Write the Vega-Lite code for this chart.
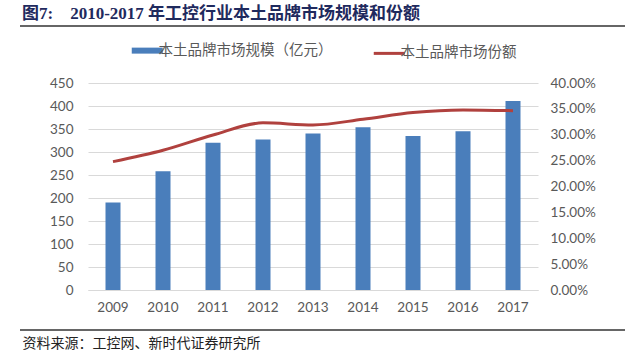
{
  "$schema": "https://vega.github.io/schema/vega-lite/v6.json",
  "width": 450,
  "height": 207,
  "autosize": {"type": "none"},
  "padding": {"left": 88, "top": 83, "right": 102, "bottom": 64},
  "background": "white",
  "title": {
    "text": "图7:\u00a0\u00a0\u00a0\u00a02010-2017 年工控行业本土品牌市场规模和份额",
    "anchor": "start",
    "frame": "group",
    "dx": -66,
    "offset": -11,
    "baseline": "alphabetic",
    "font": "Liberation Serif, Noto Sans CJK SC",
    "fontSize": 17,
    "fontWeight": "bold",
    "color": "#1f2a5e"
  },
  "data": {
    "values": [
      {"year": "2009", "size": 190, "share": 0.248},
      {"year": "2010", "size": 258, "share": 0.270},
      {"year": "2011", "size": 320, "share": 0.2995},
      {"year": "2012", "size": 327, "share": 0.323},
      {"year": "2013", "size": 340, "share": 0.319},
      {"year": "2014", "size": 354, "share": 0.330},
      {"year": "2015", "size": 335, "share": 0.343},
      {"year": "2016", "size": 345, "share": 0.348},
      {"year": "2017", "size": 411, "share": 0.3465}
    ]
  },
  "config": {
    "view": {"stroke": null},
    "axis": {
      "labelFont": "Lato",
      "labelFontSize": 13.5,
      "labelColor": "#595959",
      "gridColor": "#d9d9d9",
      "gridWidth": 1,
      "ticks": false,
      "domain": false
    }
  },
  "resolve": {"scale": {"y": "independent"}},
  "layer": [
    {
      "mark": {"type": "bar", "color": "#4a7ebb"},
      "encoding": {
        "x": {
          "field": "year",
          "type": "ordinal",
          "scale": {"paddingInner": 0.7, "paddingOuter": 0.35},
          "axis": {
            "labelAngle": 0,
            "labelPadding": 10,
            "domain": true,
            "domainColor": "#d9d9d9",
            "title": "资料来源：工控网、新时代证券研究所",
            "titleFont": "Noto Sans CJK SC",
            "titleFontWeight": "normal",
            "titleFontSize": 14,
            "titleColor": "#222222",
            "titleAnchor": "start",
            "titleAlign": "left",
            "titleBaseline": "alphabetic",
            "titleX": -66,
            "titleY": 57
          }
        },
        "y": {
          "field": "size",
          "type": "quantitative",
          "scale": {"domain": [0, 450], "nice": false},
          "axis": {"values": [0, 50, 100, 150, 200, 250, 300, 350, 400, 450], "title": null, "labelPadding": 15}
        },
        "color": {
          "datum": "本土品牌市场规模（亿元）",
          "type": "nominal",
          "scale": {
            "domain": ["本土品牌市场规模（亿元）", "本土品牌市场份额"],
            "range": ["#4a7ebb", "#b0413e"]
          },
          "legend": {
            "orient": "none",
            "legendX": 52,
            "legendY": -40,
            "direction": "horizontal",
            "title": null,
            "symbolType": "stroke",
            "symbolSize": 961,
            "symbolStrokeWidth": 3,
            "labelFont": "Noto Sans CJK SC",
            "labelFontSize": 14.5,
            "labelLimit": 400,
            "labelColor": "#595959",
            "labelOffset": 4,
            "columnPadding": 34,
            "encode": {
              "symbols": {
                "update": {
                  "strokeWidth": {"signal": "datum.value === '本土品牌市场份额' ? 3 : 6"}
                }
              }
            }
          }
        }
      }
    },
    {
      "mark": {"type": "line", "strokeWidth": 3, "interpolate": "monotone"},
      "encoding": {
        "x": {"field": "year", "type": "ordinal"},
        "y": {
          "field": "share",
          "type": "quantitative",
          "scale": {"domain": [0, 0.4], "nice": false},
          "axis": {
            "orient": "right",
            "format": ".2%",
            "values": [0, 0.05, 0.1, 0.15, 0.2, 0.25, 0.3, 0.35, 0.4],
            "title": null,
            "grid": false,
            "labelPadding": 12
          }
        },
        "color": {"datum": "本土品牌市场份额", "type": "nominal"}
      }
    },
    {
      "data": {"values": [{"pos": "top"}]},
      "mark": {"type": "rule", "color": "#333333", "strokeWidth": 1.5},
      "encoding": {
        "x": {"value": -68},
        "x2": {"value": 537},
        "y": {"value": -57},
        "detail": {"field": "pos", "type": "nominal"}
      }
    },
    {
      "data": {"values": [{"pos": "bottom"}]},
      "mark": {"type": "rule", "color": "#333333", "strokeWidth": 1.5},
      "encoding": {
        "x": {"value": -68},
        "x2": {"value": 537},
        "y": {"value": 247},
        "detail": {"field": "pos", "type": "nominal"}
      }
    }
  ]
}
